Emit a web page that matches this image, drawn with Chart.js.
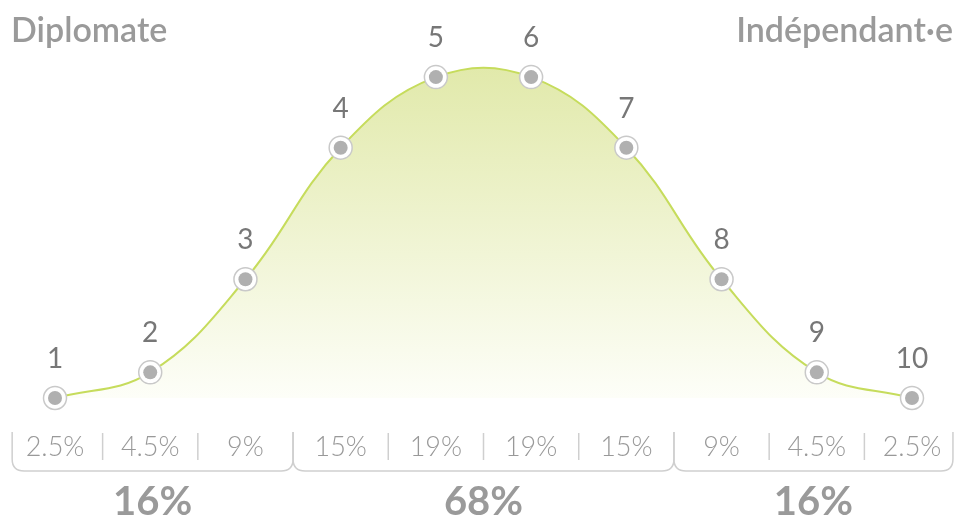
<!DOCTYPE html>
<html>
<head>
<meta charset="utf-8">
<script src="https://cdn.jsdelivr.net/npm/chart.js@4/dist/chart.umd.min.js"></script>
<style>
  body { margin: 0; background: #fff; }
  #wrap { width: 960px; height: 521px; position: relative; }
</style>
</head>
<body>
<div id="wrap"><canvas id="myChart"></canvas></div>
<script>
const categories = ['1', '2', '3', '4', '5', '6', '7', '8', '9', '10'];
const heights = [0, 8, 37, 78, 100, 100, 78, 37, 8, 0];
const shares = ['2.5%', '4.5%', '9%', '15%', '19%', '19%', '15%', '9%', '4.5%', '2.5%'];
const groupTotals = ['16%', '68%', '16%'];
const groupSizes = [3, 4, 3];
const leftTitle = 'Diplomate';
const rightTitle = 'Indépendant·e';

const FONT = 'Lato, "Noto Sans", sans-serif';

// number labels, percentage row, braces, totals and titles
const extras = {
  id: 'extras',
  afterDatasetsDraw(chart) {
    const c = chart.ctx;
    const x = chart.scales.x;
    const pts = chart.getDatasetMeta(1).data;
    const step = x.getPixelForValue(1) - x.getPixelForValue(0);
    const edge = i => x.getPixelForValue(i) - step / 2;
    const outerL = x.getPixelForValue(0) - step * 0.45;
    const outerR = x.getPixelForValue(categories.length - 1) + step * 0.43;

    c.save();
    // titles
    c.fillStyle = '#9a9a9a';
    c.font = '600 34px ' + FONT;
    c.textBaseline = 'middle';
    c.textAlign = 'left';
    c.fillText(leftTitle, 11, 31);
    c.textAlign = 'right';
    c.fillText(rightTitle, 953, 31);

    // point numbers
    c.fillStyle = '#777';
    c.font = '28px ' + FONT;
    c.textAlign = 'center';
    pts.forEach((p, i) => c.fillText(categories[i], p.x, p.y - 39));

    // share row
    c.fillStyle = '#999';
    c.font = '300 27px ' + FONT;
    shares.forEach((s, i) => c.fillText(s, x.getPixelForValue(i), 447));

    // separators inside groups
    c.strokeStyle = '#cfcfcf';
    c.lineWidth = 1.5;
    let start = 0;
    const bounds = [];
    groupSizes.forEach(n => {
      for (let i = start + 1; i < start + n; i++) {
        c.beginPath();
        c.moveTo(edge(i), 433);
        c.lineTo(edge(i), 460);
        c.stroke();
      }
      bounds.push([start, start + n]);
      start += n;
    });

    // braces
    const top = 432, bot = 471, r = 12;
    bounds.forEach(([a, b], gi) => {
      const xa = a === 0 ? outerL : edge(a);
      const xb = b === categories.length ? outerR : edge(b);
      c.beginPath();
      c.moveTo(xa, top);
      c.lineTo(xa, bot - r);
      c.quadraticCurveTo(xa, bot, xa + r, bot);
      c.lineTo(xb - r, bot);
      c.quadraticCurveTo(xb, bot, xb, bot - r);
      c.lineTo(xb, top);
      c.stroke();

      c.fillStyle = '#9a9a9a';
      c.font = 'bold 40px ' + FONT;
      c.fillText(groupTotals[gi], (xa + xb) / 2, 502);
    });
    c.restore();
  }
};

const ctx = document.getElementById('myChart');

new Chart(ctx, {
  type: 'line',
  data: {
    labels: categories,
    datasets: [
      {
        data: heights,
        borderColor: '#c6dc5c',
        borderWidth: 2,
        tension: 0.4,
        fill: 'origin',
        backgroundColor: (context) => {
          const area = context.chart.chartArea;
          if (!area) return '#e3ebb3';
          const g = context.chart.ctx.createLinearGradient(0, 65, 0, area.bottom);
          g.addColorStop(0, '#e1e9aa');
          g.addColorStop(1, '#fdfef8');
          return g;
        },
        pointRadius: 0,
        clip: false,
        order: 3
      },
      {
        data: heights,
        showLine: false,
        pointRadius: 11.5,
        pointBackgroundColor: '#fff',
        pointBorderColor: '#c9c9c9',
        pointBorderWidth: 1.5,
        pointHoverRadius: 11.5,
        clip: false,
        order: 2
      },
      {
        data: heights,
        showLine: false,
        pointRadius: 7,
        pointBackgroundColor: '#b0b0b0',
        pointBorderWidth: 0,
        pointHoverRadius: 7,
        clip: false,
        order: 1
      }
    ]
  },
  options: {
    responsive: true,
    maintainAspectRatio: false,
    animation: false,
    layout: {
      padding: { left: 55, right: 48, top: 45, bottom: 123 }
    },
    plugins: {
      legend: { display: false },
      title: { display: false },
      tooltip: { enabled: false }
    },
    scales: {
      x: { display: false, offset: false },
      y: { display: false, min: 0, max: 110 }
    }
  },
  plugins: [extras]
});
</script>
</body>
</html>
